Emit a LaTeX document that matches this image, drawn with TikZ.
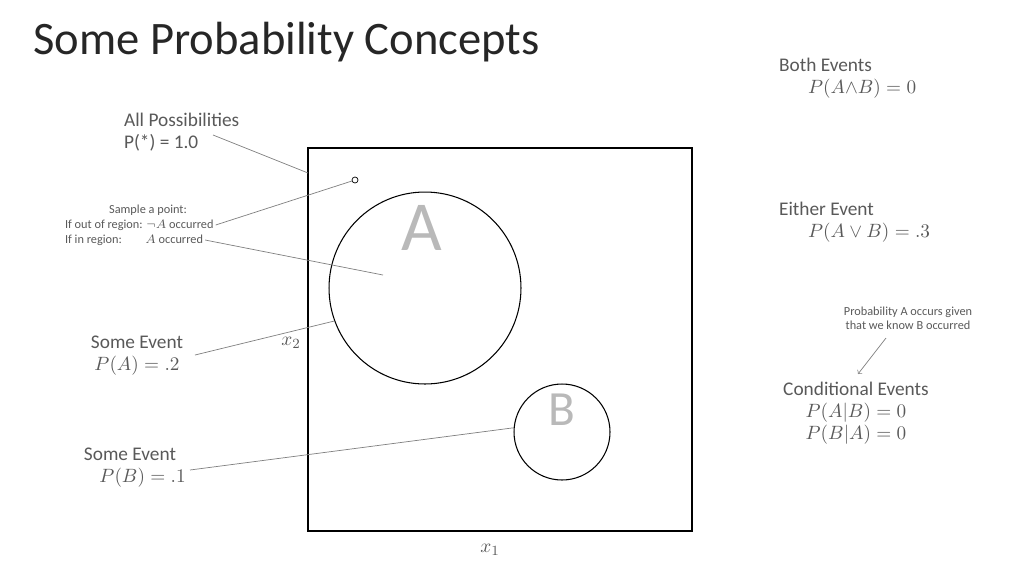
\documentclass[tikz,border=0pt]{standalone}
\usepackage{fontspec}
\setmainfont{Carlito}
\usetikzlibrary{positioning}
\definecolor{txtgray}{HTML}{595959}
\definecolor{lngray}{HTML}{7F7F7F}
\tikzset{
  lbl/.style={text=txtgray, font=\fontsize{11}{12.5}\selectfont, inner sep=1pt, align=left},
  tiny/.style={text=txtgray, font=\fontsize{7}{8}\selectfont, inner sep=1pt},
  ptr/.style={draw=lngray, line width=0.4pt},
  region/.style={draw, circle, line width=0.6pt}
}
\begin{document}
\begin{tikzpicture}[x=0.02cm, y=-0.02cm]
    \useasboundingbox (0,0) rectangle (1024,576);

    %%title
    \node[anchor=west, inner sep=0pt, font=\fontsize{26.5}{30}\selectfont, text=black!85] (title) at (33,42) {Some Probability Concepts};

    %%space and regions
    \draw[line width=0.6pt] (308,148) rectangle (692,531);
    \coordinate (boxw) at (308,173);
    \node[region, minimum size=3.84cm] (cA) at (425,288) {};
    \node[region, minimum size=1.92cm] (cB) at (562,432) {};
    \node[circle, draw, inner sep=0pt, minimum size=0.12cm, line width=0.4pt] (pt) at (355,180) {};
    \coordinate (inA) at (383,275);
        \node[text=gray!55, font=\fontsize{40}{40}\selectfont] (la) at (422,228) {A};
        \node[text=gray!55, font=\fontsize{28}{28}\selectfont] (lb) at (562,410) {B};
        \node[text=txtgray, font=\fontsize{11}{12}\selectfont] (x2) at (291,343) {$x_2$};
        \node[text=txtgray, font=\fontsize{11}{12}\selectfont] (x1) at (490,550) {$x_1$};

    %%left labels
    \node[lbl, anchor=west] (all) at (122,132) {All Possibilities\\P(*) = 1.0};
    \node[tiny] (samp) at (148,210) {Sample a point:};
    \node[tiny, anchor=west] (out) at (63,225) {If out of region: $\neg A$ occurred};
    \node[tiny, anchor=west] (in) at (63,240) {If in region:\hspace{1.6em} $A$ occurred};
    \node[lbl, align=center] (evA) at (137,356) {Some Event\\$P(A)=.2$};
    \node[lbl, align=center] (evB) at (130,468) {Some Event\\\hspace*{1.3em}$P(B)=.1$};

    \draw[ptr] (213,135) -- (boxw);
    \draw[ptr] (out.east) -- (pt);
    \draw[ptr] (in.east) -- (inA);
    \draw[ptr] (195,355) -- (cA.200);
    \draw[ptr] (190,470) -- (cB.175);

    %%right labels
    \node[lbl, anchor=west] (both) at (777,78) {Both Events\\\hspace*{1.5em}$P(A{\wedge}B)=0$};
    \node[lbl, anchor=west] (either) at (777,222) {Either Event\\\hspace*{1.5em}$P(A\vee B)=.3$};
    \node[tiny, align=center] (given) at (908,318) {Probability A occurs given\\that we know B occurred};
    \node[lbl, align=center] (cond) at (856,413) {Conditional Events\\$P(A|B)=0$\\$P(B|A)=0$};
    \draw[ptr, ->] (886,338) -- (858,374);
\end{tikzpicture}
\end{document}
